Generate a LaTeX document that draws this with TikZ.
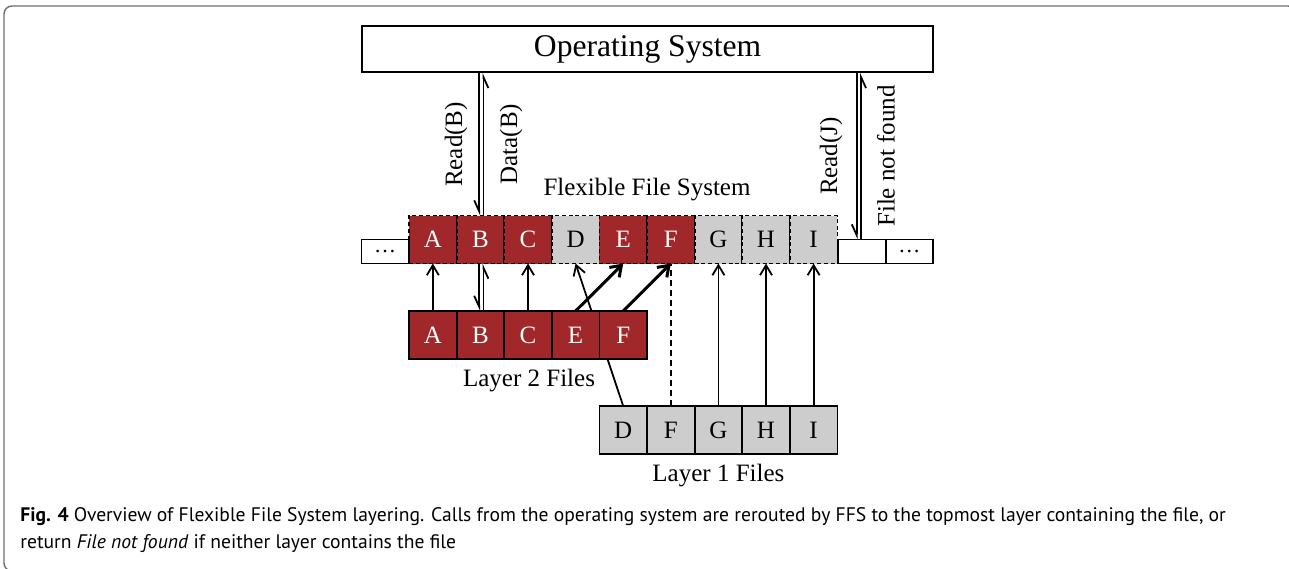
\documentclass[tikz,border=0pt]{standalone}
\usepackage{fontspec}
\setmainfont{Liberation Serif}
\newfontfamily\capfont{PT Sans}
\usepackage{tikz,tkz-graph}
\usetikzlibrary{arrows.meta}
\definecolor{ffsred}{RGB}{160,40,42}
\definecolor{ffsgray}{RGB}{205,205,205}
\definecolor{framegray}{RGB}{110,110,110}
\tikzstyle{redCell}=[shape = rectangle, minimum width = 23.8pt, minimum height = 24pt, inner sep = 0pt, draw, line width = 0.9pt, fill = ffsred, text = white, font = \fontsize{12.5}{14}\selectfont]
\tikzstyle{grayCell}=[shape = rectangle, minimum width = 23.8pt, minimum height = 24pt, inner sep = 0pt, draw, line width = 0.9pt, fill = ffsgray, text = black, font = \fontsize{12.5}{14}\selectfont]
\tikzstyle{sideCell}=[shape = rectangle, minimum width = 23.8pt, minimum height = 12pt, inner sep = 0pt, draw, line width = 0.9pt, fill = white, font = \fontsize{11}{12}\selectfont]

\begin{document}
\begin{tikzpicture}[x = 0.5pt, y = -0.5pt]
\tikzstyle{VertexStyle} = []
\tikzstyle{EdgeStyle} = []
\tikzstyle{ffsDash}=[dash pattern = on 2pt off 1.4pt]
\tikzstyle{labelText}=[font = \fontsize{12.5}{14}\selectfont, inner sep = 0pt]
\tikzstyle{plainArrow}=[line width = 0.9pt, -{Straight Barb[length = 5pt, width = 6pt]}]
\tikzstyle{thickArrow}=[line width = 1.5pt, -{Straight Barb[length = 5pt, width = 7pt]}]
\tikzstyle{harpArrow}=[line width = 0.9pt, -{Straight Barb[right, length = 5.5pt, width = 5pt]}]
\useasboundingbox (0,0) rectangle (1289,568);
\draw[framegray, line width = 0.7pt, rounded corners = 4pt] (4,6) rectangle (1296,571);
% operating system
\node[draw, line width = 0.9pt, minimum width = 285.5pt, minimum height = 23pt, inner sep = 0pt, font = \fontsize{15.8}{18}\selectfont] (os) at (647.6,49) {Operating System};
% flexible file system
\Vertex[style = {redCell, ffsDash}, x = 432.8, y = 239.5, L = {A}]{f0}
\Vertex[style = {redCell, ffsDash}, x = 480.4, y = 239.5, L = {B}]{f1}
\Vertex[style = {redCell, ffsDash}, x = 528.0, y = 239.5, L = {C}]{f2}
\Vertex[style = {grayCell, ffsDash}, x = 575.6, y = 239.5, L = {D}]{f3}
\Vertex[style = {redCell, ffsDash}, x = 623.2, y = 239.5, L = {E}]{f4}
\Vertex[style = {redCell, ffsDash}, x = 670.8, y = 239.5, L = {F}]{f5}
\Vertex[style = {grayCell, ffsDash}, x = 718.4, y = 239.5, L = {G}]{f6}
\Vertex[style = {grayCell, ffsDash}, x = 766.0, y = 239.5, L = {H}]{f7}
\Vertex[style = {grayCell, ffsDash}, x = 813.6, y = 239.5, L = {I}]{f8}
\Vertex[style = sideCell, x = 385.2, y = 251.5, L = {\dots}]{d0}
\Vertex[style = sideCell, x = 861.8, y = 251.5, L = {~}]{d1}
\Vertex[style = sideCell, x = 909.4, y = 251.5, L = {\dots}]{d2}
\node[labelText] (ffs) at (647,190) {Flexible File System};
% layer 1
\Vertex[style = grayCell, x = 623.2, y = 430, L = {D}]{c0}
\Vertex[style = grayCell, x = 670.8, y = 430, L = {F}]{c1}
\Vertex[style = grayCell, x = 718.4, y = 430, L = {G}]{c2}
\Vertex[style = grayCell, x = 766.0, y = 430, L = {H}]{c3}
\Vertex[style = grayCell, x = 813.6, y = 430, L = {I}]{c4}
\node[labelText] (one) at (718.4,476) {Layer 1 Files};
\draw[plainArrow] (c0.north) -- (f3.south);
% layer 2
\Vertex[style = redCell, x = 432.8, y = 335, L = {A}]{b0}
\Vertex[style = redCell, x = 480.4, y = 335, L = {B}]{b1}
\Vertex[style = redCell, x = 528.0, y = 335, L = {C}]{b2}
\Vertex[style = redCell, x = 575.6, y = 335, L = {E}]{b3}
\Vertex[style = redCell, x = 623.2, y = 335, L = {F}]{b4}
\node[labelText] (two) at (529,381) {Layer 2 Files};
% arrows
\draw[plainArrow] (b0.north) -- (f0.south);
\draw[plainArrow] (b2.north) -- (f2.south);
\draw[harpArrow] ([xshift = -0.6pt]f1.south) -- ([xshift = -0.6pt]b1.north);
\draw[harpArrow] ([xshift = 1.5pt]b1.north) -- ([xshift = 1.5pt]f1.south);
\draw[thickArrow] (b3.north) -- (f4.south);
\draw[thickArrow] (b4.north) -- (f5.south);
\draw[line width = 0.9pt, dash pattern = on 3pt off 2pt] (c1.north) -- (f5.south);
\draw[plainArrow] (c2.north) -- (f6.south);
\draw[plainArrow] (c3.north) -- (f7.south);
\draw[plainArrow] (c4.north) -- (f8.south);
% calls
\coordinate (rb) at ([xshift = -0.6pt]f1.north);
\coordinate (db) at ([xshift = 1.5pt]f1.north);
\coordinate (rj) at ([xshift = -2.5pt]d1.north);
\coordinate (nf) at ([xshift = -0.4pt]d1.north);
\draw[harpArrow] (rb |- os.south) -- (rb);
\draw[harpArrow] (db) -- (db |- os.south);
\draw[harpArrow] (rj |- os.south) -- (rj);
\draw[harpArrow] (nf) -- (nf |- os.south);
\node[labelText, rotate = 90] (rdb) at (456,144.5) {Read(B)};
\node[labelText, rotate = 90] (dtb) at (511,144) {Data(B)};
\node[labelText, rotate = 90] (rdj) at (831,156) {Read(J)};
\node[labelText, rotate = 90] (fnf) at (886,156) {File not found};
% caption
\node[anchor = base west, inner sep = 0pt, font = \capfont\fontsize{9.8}{11}\selectfont] (cap1) at (20,521) {\textbf{Fig. 4} Overview of Flexible File System layering. Calls from the operating system are rerouted by FFS to the topmost layer containing the file, or};
\node[anchor = base west, inner sep = 0pt, font = \capfont\fontsize{9.8}{11}\selectfont] (cap2) at (20,548) {return \textit{File not found} if neither layer contains the file};
\end{tikzpicture}
\end{document}
